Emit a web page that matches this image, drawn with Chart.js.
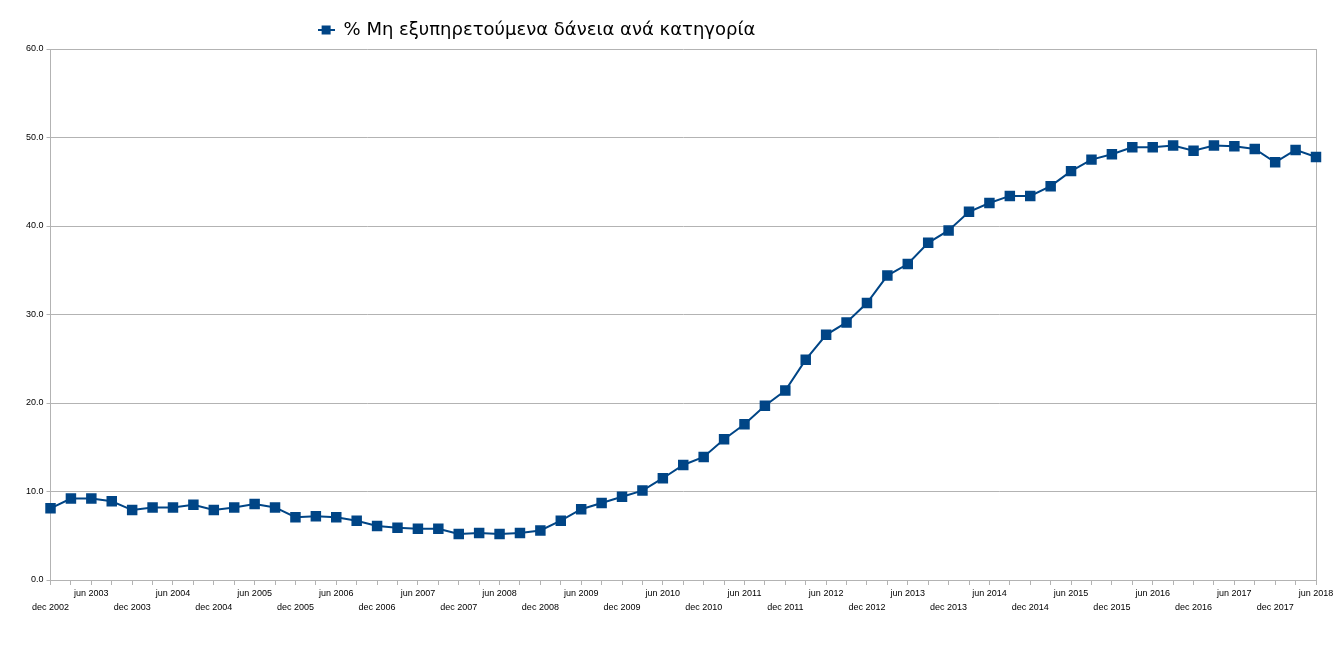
<!DOCTYPE html>
<html>
<head>
<meta charset="utf-8">
<script src="https://cdn.jsdelivr.net/npm/chart.js@4/dist/chart.umd.min.js"></script>
<style>
  html, body { margin: 0; padding: 0; background: #fff; }
  #wrap { width: 1337px; height: 653px; position: relative; }
</style>
</head>
<body>
<div id="wrap"><canvas id="myChart"></canvas></div>
<script>
// --------------------
// Data (quarterly)
// --------------------
const quarters = [
  "dec 2002",
  "mar 2003", "jun 2003", "sep 2003", "dec 2003",
  "mar 2004", "jun 2004", "sep 2004", "dec 2004",
  "mar 2005", "jun 2005", "sep 2005", "dec 2005",
  "mar 2006", "jun 2006", "sep 2006", "dec 2006",
  "mar 2007", "jun 2007", "sep 2007", "dec 2007",
  "mar 2008", "jun 2008", "sep 2008", "dec 2008",
  "mar 2009", "jun 2009", "sep 2009", "dec 2009",
  "mar 2010", "jun 2010", "sep 2010", "dec 2010",
  "mar 2011", "jun 2011", "sep 2011", "dec 2011",
  "mar 2012", "jun 2012", "sep 2012", "dec 2012",
  "mar 2013", "jun 2013", "sep 2013", "dec 2013",
  "mar 2014", "jun 2014", "sep 2014", "dec 2014",
  "mar 2015", "jun 2015", "sep 2015", "dec 2015",
  "mar 2016", "jun 2016", "sep 2016", "dec 2016",
  "mar 2017", "jun 2017", "sep 2017", "dec 2017",
  "mar 2018", "jun 2018"
];

const nplRatio = [
  8.1,
  9.2, 9.2, 8.9, 7.9,
  8.2, 8.2, 8.5, 7.9,
  8.2, 8.6, 8.2, 7.1,
  7.2, 7.1, 6.7, 6.1,
  5.9, 5.8, 5.8, 5.2,
  5.3, 5.2, 5.3, 5.6,
  6.7, 8.0, 8.7, 9.4,
  10.1, 11.5, 13.0, 13.9,
  15.9, 17.6, 19.7, 21.4,
  24.9, 27.7, 29.1, 31.3,
  34.4, 35.7, 38.1, 39.5,
  41.6, 42.6, 43.4, 43.4,
  44.5, 46.2, 47.5, 48.1,
  48.9, 48.9, 49.1, 48.5,
  49.1, 49.0, 48.7, 47.2,
  48.6, 47.8
];

const seriesName = "% Μη εξυπηρετούμενα δάνεια ανά κατηγορία";
const yTicks = [0, 10, 20, 30, 40, 50, 60];

const seriesColor = "#004586";
const gridColor = "#b3b3b3";

// Legend symbol: short line with a square on it
const legendIcon = document.createElement("canvas");
legendIcon.width = 17;
legendIcon.height = 10;
(function () {
  const g = legendIcon.getContext("2d");
  g.strokeStyle = seriesColor;
  g.lineWidth = 2;
  g.beginPath();
  g.moveTo(0, 5);
  g.lineTo(17, 5);
  g.stroke();
  g.fillStyle = seriesColor;
  g.fillRect(4, 0.5, 9, 9);
})();

// Shift legend to the left like the original
const legendShift = {
  id: "legendShift",
  afterLayout(chart) {
    if (chart.legend) {
      chart.legend.right -= 274;
    }
  }
};

const ctx = document.getElementById("myChart").getContext("2d");

new Chart(ctx, {
  type: "line",
  data: {
    labels: quarters,
    datasets: [{
      label: seriesName,
      data: nplRatio,
      borderColor: seriesColor,
      backgroundColor: seriesColor,
      borderWidth: 2,
      pointStyle: "rect",
      pointRadius: 6,
      pointHoverRadius: 6,
      tension: 0
    }]
  },
  options: {
    responsive: true,
    maintainAspectRatio: false,
    animation: false,
    layout: { padding: { left: 23, right: 13, top: 12, bottom: 37 } },
    scales: {
      x: {
        offset: false,
        grid: {
          drawOnChartArea: false,
          drawTicks: true,
          tickLength: 5,
          color: gridColor
        },
        border: { color: gridColor },
        ticks: {
          autoSkip: false,
          maxRotation: 0,
          padding: 2,
          color: "#000",
          font: { family: "Liberation Sans", size: 9, lineHeight: 1.5 },
          callback: function (value, index) {
            if (index % 2 === 1) return "";
            const lbl = quarters[index];
            return lbl.startsWith("jun") ? [lbl] : ["", lbl];
          }
        }
      },
      y: {
        min: 0,
        max: 60,
        afterBuildTicks: (axis) => { axis.ticks = yTicks.map(v => ({ value: v })); },
        grid: { color: gridColor, tickLength: 4 },
        border: { color: gridColor },
        ticks: {
          padding: 3,
          color: "#000",
          font: { family: "Liberation Sans", size: 9 },
          callback: (v) => Number(v).toFixed(1)
        }
      },
      y2: {
        position: "right",
        min: 0,
        max: 60,
        grid: { display: false },
        border: { color: gridColor },
        ticks: { display: false }
      }
    },
    plugins: {
      legend: {
        position: "top",
        labels: {
          color: "#000",
          usePointStyle: true,
          pointStyle: legendIcon,
          pointStyleWidth: 17,
          boxHeight: 10,
          padding: 9,
          font: { family: "DejaVu Sans", size: 18 }
        }
      },
      tooltip: { enabled: false }
    }
  },
  plugins: [legendShift]
});
</script>
</body>
</html>
